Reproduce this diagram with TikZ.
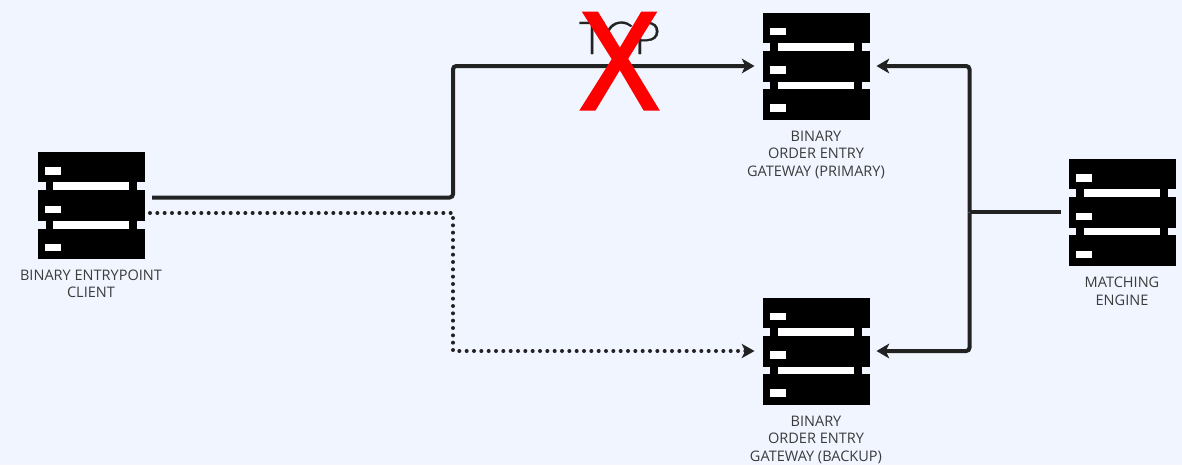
\documentclass[tikz,border=0pt]{standalone}
\usepackage{fontspec}
\setmainfont{Open Sans}
\newfontfamily\tcpfont{Lato Light}[FakeBold=0.6]
\newfontfamily\xfont{Liberation Sans}[FakeBold=2.6]
\usetikzlibrary{arrows.meta,calc}
\definecolor{bgc}{HTML}{F0F5FF}
\definecolor{linec}{HTML}{222222}
\definecolor{labelc}{HTML}{3C3C3C}
\tikzset{
  x=0.75pt,y=-0.75pt,
  rackbox/.style={minimum size=80.25pt,inner sep=0pt,outer sep=0pt},
  racklabel/.style={align=center,text=labelc,inner sep=0pt,font=\fontsize{10.9}{13.1}\selectfont},
  flowtip/.style={-{Stealth[length=9.5pt,width=11pt,inset=2.6pt]}},
  flow/.style={draw=linec,line width=3pt,rounded corners=2.5pt},
  dotline/.style={draw=linec,line width=3pt,line cap=round,dash pattern=on 0pt off 5.5pt},
}
\newcommand{\rackicon}[3]{%
  \node[rackbox] (#1) at (#2,#3) {};
  \begin{scope}[shift={(#1.north west)}]
    \fill[black] (0,0) rectangle (107,30);
    \fill[black] (0,38) rectangle (107,69);
    \fill[black] (0,76.5) rectangle (107,107);
    \fill[black] (7.7,30) rectangle (15.3,38);
    \fill[black] (91.3,30) rectangle (99.3,38);
    \fill[black] (7.7,69) rectangle (15.3,76.5);
    \fill[black] (91.3,69) rectangle (99.3,76.5);
    \fill[white] (15.3,30) rectangle (91.3,38);
    \fill[white] (15.3,69) rectangle (91.3,76.5);
    \fill[white] (7.3,15) rectangle (23,22.7);
    \fill[white] (7.3,53.7) rectangle (23,61);
    \fill[white] (7.3,91.7) rectangle (23,99.4);
  \end{scope}%
}
\begin{document}
\begin{tikzpicture}
\useasboundingbox (0,0) rectangle (1182,465);
\fill[bgc] (0,0) rectangle (1182,465);

\rackicon{client}{91.5}{205.5}
\rackicon{primary}{816}{66}
\rackicon{backup}{816}{351}
\rackicon{matching}{1122}{212.3}

\node[racklabel] (clientlabel) at (91,284) {BINARY ENTRYPOINT\\CLIENT};
\node[racklabel] (primarylabel) at (816,154.5) {BINARY\\ORDER ENTRY\\GATEWAY (PRIMARY)};
\node[racklabel] (backuplabel) at (816,439.5) {BINARY\\ORDER ENTRY\\GATEWAY (BACKUP)};
\node[racklabel] (matchinglabel) at (1122,291.5) {MATCHING\\ENGINE};

\node[inner sep=0pt,text=linec,font=\tcpfont\fontsize{34}{34}\selectfont] (tcp) at (619.5,38) {TCP};

\coordinate (solidstart) at ($(client.east)+(7,-8)$);
\coordinate (dotstart) at ($(client.east)+(5,7.5)$);
\coordinate (splitx) at (453,0);
\coordinate (trunk) at (969.5,212.3);
\coordinate (matchend) at ($(matching.west)+(-8,0)$);
\coordinate (primaryin) at ($(primary.west)+(-8,0)$);
\coordinate (backupin) at ($(backup.west)+(-8,0)$);
\coordinate (primaryout) at ($(primary.east)+(7,0)$);
\coordinate (backupout) at ($(backup.east)+(7,0)$);

\draw[flow,flowtip] (solidstart) -| (splitx |- primaryin) -- (primaryin);
\draw[dotline] (dotstart) -| (splitx |- backupin) -- ($(backupin)+(-6,0)$);
\fill[linec] (backupin) -- ++(-13,-7.3) -- ++(3.6,7.3) -- ++(-3.6,7.3) -- cycle;
\draw[flow] (matchend) -- (trunk);
\draw[flow,flowtip] (trunk) |- (primaryout);
\draw[flow,flowtip] (trunk) |- (backupout);

\node[inner sep=0pt,text=red,xscale=0.86,font=\xfont\fontsize{104}{104}\selectfont] (cross) at (619.5,61) {X};
\end{tikzpicture}
\end{document}
